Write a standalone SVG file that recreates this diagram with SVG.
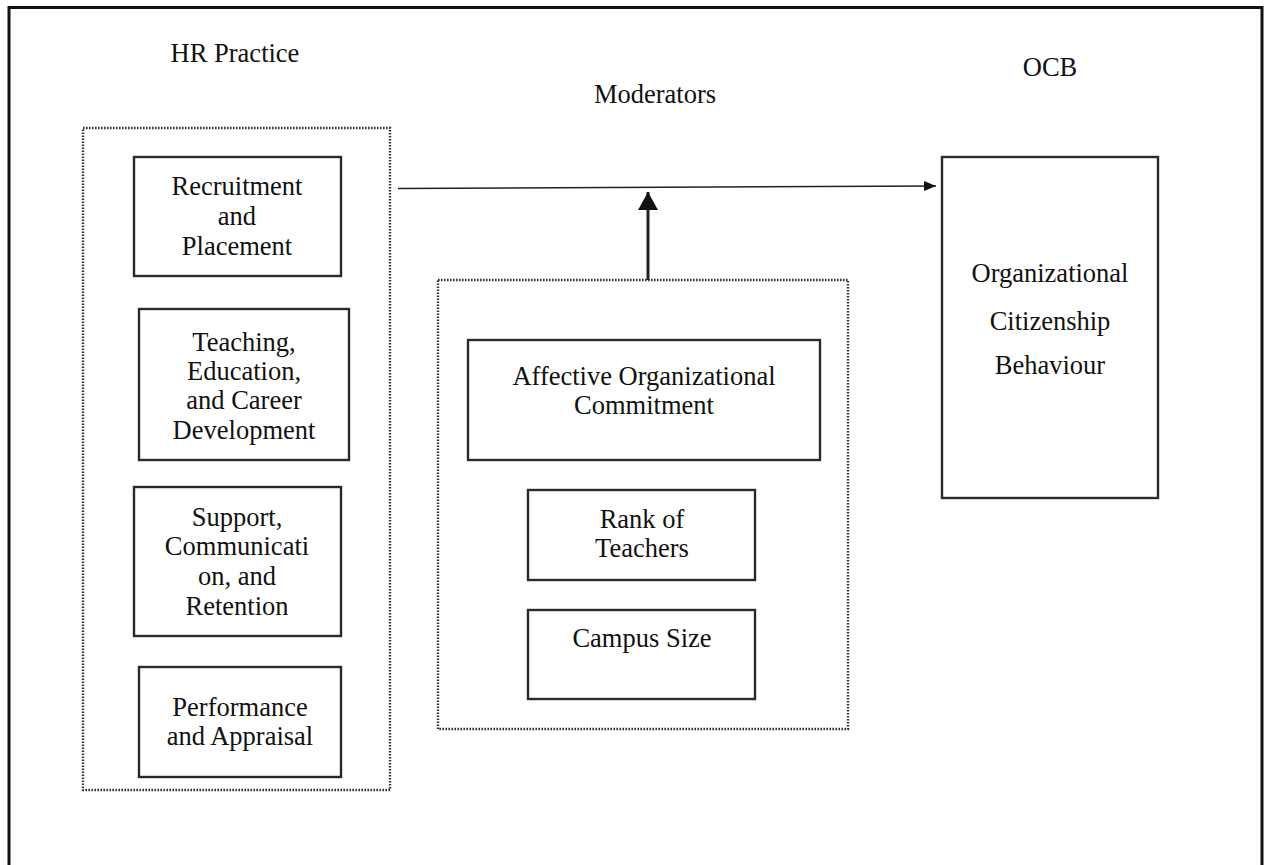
<svg xmlns="http://www.w3.org/2000/svg" width="1264" height="865" viewBox="0 0 1264 865">
<style>
text{font-family:"Liberation Serif","Times New Roman",serif;font-size:26.5px;fill:#111;text-anchor:middle}
.box{fill:#fff;stroke:#2a2a2a;stroke-width:2.4}
.dot{fill:none;stroke:#333;stroke-width:2.4;stroke-dasharray:1.6 1.4}
.frame{fill:none;stroke:#111;stroke-width:3}
</style>
<defs>
<marker id="ah" viewBox="0 0 12 10" refX="12" refY="5" markerWidth="12" markerHeight="10" markerUnits="userSpaceOnUse" orient="auto">
<path d="M0,0 L12,5 L0,10 Z" fill="#111"/>
</marker>
<marker id="ahBig" viewBox="0 0 18 20" refX="18" refY="10" markerWidth="18" markerHeight="20" markerUnits="userSpaceOnUse" orient="auto">
<path d="M0,0 L18,10 L0,20 Z" fill="#111"/>
</marker>
</defs>
<rect width="1264" height="865" fill="#fff"/>
<path class="frame" d="M9,880 L9,7.5 L1262,7.5 L1262,880"/>

<g id="titles">
<text x="235" y="62">HR Practice</text>
<text x="655" y="103">Moderators</text>
<text x="1050" y="76">OCB</text>
</g>

<g id="hr-group">
<rect class="dot" x="83" y="128" width="307" height="662"/>
</g>
<g id="recruitment">
<rect class="box" x="134" y="157" width="207" height="119"/>
<text x="237" y="195">Recruitment</text>
<text x="237" y="225">and</text>
<text x="237" y="255">Placement</text>
</g>
<g id="teaching">
<rect class="box" x="139" y="309" width="210" height="151"/>
<text x="244" y="351">Teaching,</text>
<text x="244" y="380">Education,</text>
<text x="244" y="409">and Career</text>
<text x="244" y="439">Development</text>
</g>
<g id="support">
<rect class="box" x="134" y="487" width="207" height="149"/>
<text x="237" y="526">Support,</text>
<text x="237" y="555">Communicati</text>
<text x="237" y="585">on, and</text>
<text x="237" y="615">Retention</text>
</g>
<g id="performance">
<rect class="box" x="139" y="667" width="202" height="110"/>
<text x="240" y="716">Performance</text>
<text x="240" y="745">and Appraisal</text>
</g>

<g id="moderators-group">
<rect class="dot" x="438" y="280" width="410" height="449"/>
</g>
<g id="affective">
<rect class="box" x="468" y="340" width="352" height="120"/>
<text x="644" y="385">Affective Organizational</text>
<text x="644" y="414">Commitment</text>
</g>
<g id="rank">
<rect class="box" x="528" y="490" width="227" height="90"/>
<text x="642" y="528">Rank of</text>
<text x="642" y="557">Teachers</text>
</g>
<g id="campus">
<rect class="box" x="528" y="610" width="227" height="89"/>
<text x="642" y="647">Campus Size</text>
</g>

<g id="ocb">
<rect class="box" x="942" y="157" width="216" height="341"/>
<text x="1050" y="282">Organizational</text>
<text x="1050" y="330">Citizenship</text>
<text x="1050" y="374">Behaviour</text>
</g>

<g id="connectors">
<line x1="398" y1="188.5" x2="936" y2="186" stroke="#222" stroke-width="1.6" marker-end="url(#ah)"/>
<line x1="648" y1="280" x2="648" y2="192" stroke="#222" stroke-width="3" marker-end="url(#ahBig)"/>
</g>
</svg>
